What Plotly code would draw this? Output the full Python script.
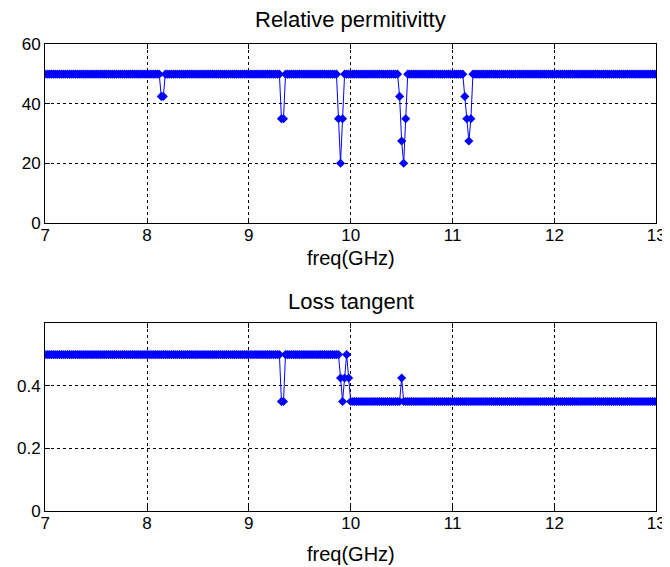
import numpy as np
import plotly.graph_objects as go

# ---- data ----
freq = np.round(np.linspace(7, 13, 301), 2)  # GHz sample grid

perm_base = 50.0
perm_dip_freq = [8.14, 8.16, 9.32, 9.34, 9.88, 9.90, 9.92,
                 10.48, 10.50, 10.52, 10.54, 11.12, 11.14, 11.16, 11.18]
perm_dip_val = [42.5, 42.5, 35, 35, 35, 20, 35,
                42.5, 27.5, 20, 35, 42.5, 35, 27.5, 35]

loss_low_band = 0.50    # below the step
loss_high_band = 0.35   # above the step
loss_step_freq = 9.99
loss_dev_freq = [9.32, 9.34, 9.90, 9.92, 9.94, 9.96, 9.98, 10.50]
loss_dev_val = [0.35, 0.35, 0.425, 0.35, 0.425, 0.5, 0.425, 0.425]

x_ticks = [7, 8, 9, 10, 11, 12, 13]
perm_ticks = [0, 20, 40, 60]
loss_ticks = [0, 0.2, 0.4]
loss_tick_text = ["0", "0.2", "0.4"]

titles = ["Relative permitivitty", "Loss tangent"]
xlabel = "freq(GHz)"

# ---- build series ----
perm_map = dict(zip(perm_dip_freq, perm_dip_val))
perm = [perm_map.get(float(f), perm_base) for f in freq]
loss_map = dict(zip(loss_dev_freq, loss_dev_val))
loss = [loss_map.get(float(f), loss_low_band if f < loss_step_freq else loss_high_band)
        for f in freq]

W, H = 670, 567

# compensate for page offset/scaling observed in the viewer
def LX(X):
    return (X - 10.7) / 0.9837

def LY(Y):
    return (Y - 15.5) / 0.970

px_l, px_r = LX(43), LX(657)
top_box = (LY(43), LY(222))
bot_box = (LY(323), LY(511))

def ydom(box):
    return [1 - box[1] / H, 1 - box[0] / H]

blue = "rgb(0,0,255)"
fig = go.Figure()
for yv, ax in [(perm, "y"), (loss, "y2")]:
    fig.add_trace(go.Scatter(
        x=freq, y=yv, mode="lines+markers", xaxis="x" if ax == "y" else "x2", yaxis=ax,
        line=dict(color=blue, width=1),
        marker=dict(symbol="diamond", size=7, color=blue, line=dict(width=0)),
        showlegend=False, hoverinfo="skip"))

font = "Liberation Sans, Arial, sans-serif"
common_axis = dict(
    showline=True, linecolor="black", linewidth=1, mirror="ticks",
    ticks="inside", ticklen=5, tickcolor="black",
    showgrid=True, gridcolor="black", griddash="dot", gridwidth=1,
    zeroline=False, tickfont=dict(family=font, size=17, color="black"),
)
xd = [px_l / W, px_r / W]
fig.update_layout(
    width=W, height=H, paper_bgcolor="white", plot_bgcolor="white",
    margin=dict(l=0, r=0, t=0, b=0),
    xaxis=dict(domain=xd, range=[7, 13], tickvals=x_ticks, anchor="y",
               ticklabelstandoff=-3, **common_axis),
    yaxis=dict(domain=ydom(top_box), range=[0, 60], tickvals=perm_ticks, anchor="x", **common_axis),
    xaxis2=dict(domain=xd, range=[7, 13], tickvals=x_ticks, anchor="y2",
                ticklabelstandoff=-3, **common_axis),
    yaxis2=dict(domain=ydom(bot_box), range=[0, 0.6], tickvals=loss_ticks,
                ticktext=loss_tick_text, anchor="x2", **common_axis),
)

cx = (px_l + px_r) / 2 / W
ann = [
    (titles[0], 1 - LY(18) / H, 22),
    (xlabel, 1 - LY(257) / H, 20),
    (titles[1], 1 - LY(301) / H, 22),
    (xlabel, 1 - LY(554) / H, 20),
]
for text, y, s in ann:
    fig.add_annotation(text=text, x=cx, y=y, xref="paper", yref="paper",
                       showarrow=False, xanchor="center", yanchor="middle",
                       font=dict(family=font, size=s, color="black"))

fig.write_html("out.html")
